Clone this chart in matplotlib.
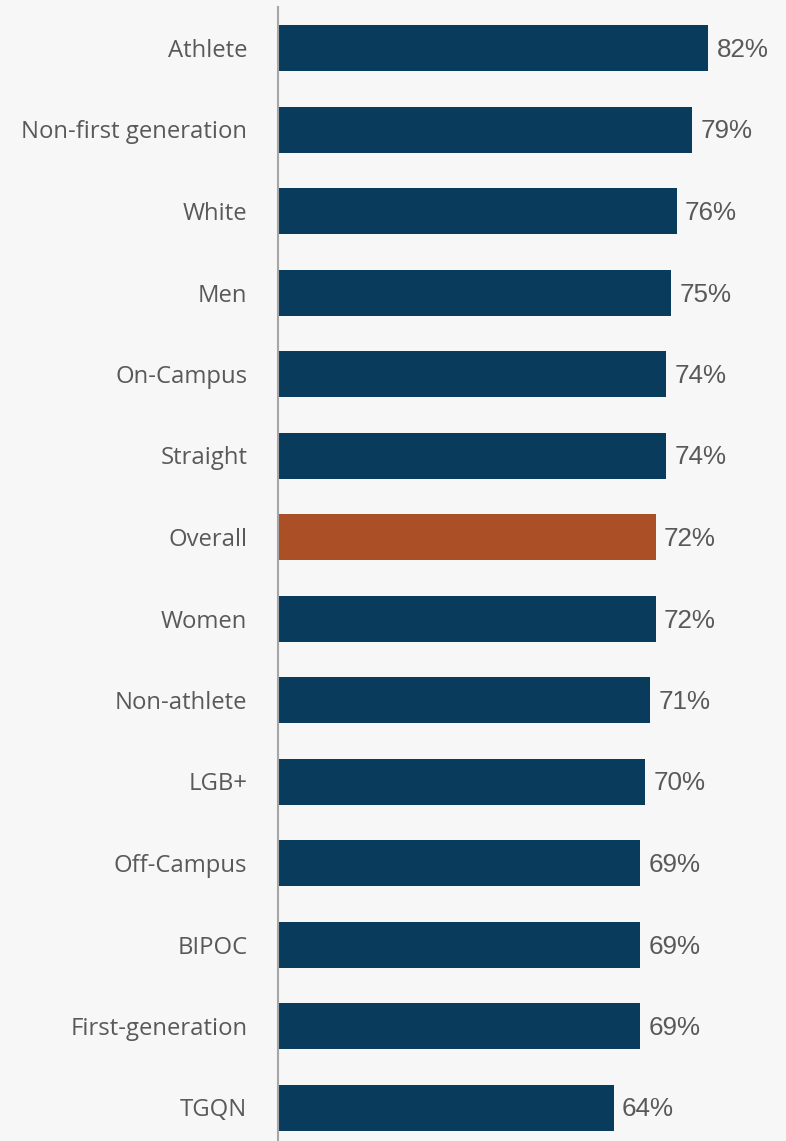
import matplotlib
matplotlib.use("Agg")
import matplotlib.pyplot as plt

categories = ["Athlete", "Non-first generation", "White", "Men", "On-Campus",
              "Straight", "Overall", "Women", "Non-athlete", "LGB+",
              "Off-Campus", "BIPOC", "First-generation", "TGQN"]
values = [82, 79, 76, 75, 74, 74, 72, 72, 71, 70, 69, 69, 69, 64]
highlight = "Overall"

BG = "#F7F7F7"
NAVY = "#083B5C"
ORANGE = "#AA4F26"
TEXT = "#595959"

W, H = 786, 1141
fig = plt.figure(figsize=(W / 100, H / 100), dpi=100, facecolor=BG)

# row pitch in pixels, first row centre and axis origin
row_px = 81.5
first_center_px = 48
left_px = 278
top_px = first_center_px - row_px / 2

ax = fig.add_axes([left_px / W, 0, 1 - left_px / W, (H - top_px) / H])
ax.set_facecolor(BG)

pos = list(range(len(categories)))
colors = [ORANGE if c == highlight else NAVY for c in categories]
ax.barh(pos, values, height=46 / row_px, color=colors, edgecolor="none")

for y, v in zip(pos, values):
    ax.text(v + 1.6, y + 2 / row_px, f"{v}%", va="center", ha="left",
            fontsize=18.7, color=TEXT, family="Liberation Sans")

ax.set_yticks(pos)
ax.set_yticklabels(categories, fontsize=17.2, color=TEXT, family="Open Sans")
ax.tick_params(axis="y", length=0, pad=22)
ax.set_xticks([])

ax.set_xlim(0, (W - left_px) / 5.244)
ax.set_ylim(-0.5 + (H - top_px) / row_px, -0.5)

for s in ["top", "right", "bottom"]:
    ax.spines[s].set_visible(False)
ax.spines["left"].set_color("#A6A6A6")
ax.spines["left"].set_linewidth(1.5)

fig.savefig("out.png", dpi=100, facecolor=BG)
